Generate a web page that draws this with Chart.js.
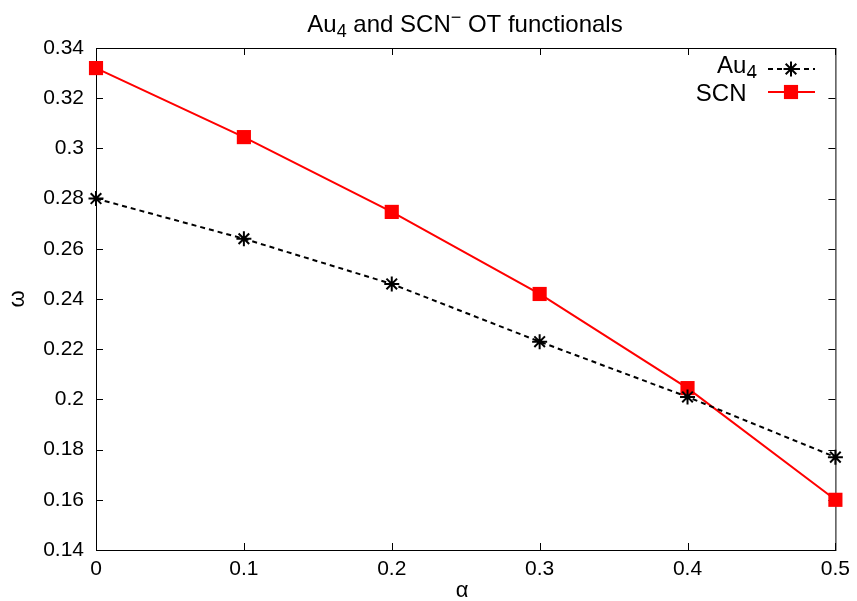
<!DOCTYPE html>
<html>
<head>
<meta charset="utf-8">
<script src="https://cdn.jsdelivr.net/npm/chart.js@4"></script>
<style>
  html, body { margin: 0; padding: 0; background: #fff; }
  #wrap { width: 857px; height: 601px; }
</style>
</head>
<body>
<div id="wrap"><canvas id="chart" width="857" height="601"></canvas></div>
<script>
// Data
const alphaValues = [0, 0.1, 0.2, 0.3, 0.4, 0.5];
const au4Omega = [0.280, 0.264, 0.246, 0.223, 0.201, 0.177];
const scnOmega = [0.332, 0.3045, 0.2747, 0.242, 0.2045, 0.160];
const xTicks = [0, 0.1, 0.2, 0.3, 0.4, 0.5];
const yTicks = [0.14, 0.16, 0.18, 0.2, 0.22, 0.24, 0.26, 0.28, 0.3, 0.32, 0.34];

const FONT = '"Liberation Sans", Arial, sans-serif';
const TICK_SIZE = 21;
const TEXT_SIZE = 24;

// draw a run of text pieces; each piece may have its own size and vertical offset
function drawRichText(ctx, pieces, x, y, align) {
    const fontOf = p => (p.size || TEXT_SIZE) + 'px ' + FONT;
    const widths = pieces.map(p => { ctx.font = fontOf(p); return ctx.measureText(p.t).width; });
    const total = widths.reduce((s, w) => s + w, 0);
    let cx = align === 'center' ? x - total / 2 : align === 'right' ? x - total : x;
    ctx.textAlign = 'left';
    ctx.textBaseline = 'alphabetic';
    pieces.forEach((p, i) => {
        ctx.font = fontOf(p);
        ctx.fillText(p.t, cx, y + (p.dy || 0));
        cx += widths[i];
    });
}

// border + inward ticks (under the data, like gnuplot)
const gnuplotFrame = {
    id: 'gnuplotFrame',
    beforeDatasetsDraw(chart) {
        const ctx = chart.ctx;
        const area = chart.chartArea;
        const xs = chart.scales.x, ys = chart.scales.y;
        ctx.save();
        ctx.strokeStyle = '#000';
        ctx.lineWidth = 1;
        ctx.strokeRect(area.left + 0.5, area.top + 0.5, area.right - area.left, area.bottom - area.top);
        const tl = 7;
        ctx.beginPath();
        xTicks.forEach(v => {
            const px = Math.round(xs.getPixelForValue(v)) + 0.5;
            ctx.moveTo(px, area.bottom); ctx.lineTo(px, area.bottom - tl);
            ctx.moveTo(px, area.top); ctx.lineTo(px, area.top + tl);
        });
        yTicks.forEach(v => {
            const py = Math.round(ys.getPixelForValue(v)) + 0.5;
            ctx.moveTo(area.left, py); ctx.lineTo(area.left + tl, py);
            ctx.moveTo(area.right, py); ctx.lineTo(area.right - tl, py);
        });
        ctx.stroke();
        ctx.restore();
    },
    afterDraw(chart) {
        const ctx = chart.ctx;
        ctx.save();
        ctx.fillStyle = '#000';

        // title
        drawRichText(ctx, [
            { t: 'Au' }, { t: '4', size: 18, dy: 5 }, { t: ' and SCN' },
            { t: '\u2212', size: 18, dy: -9 }, { t: ' OT functionals' }
        ], 465, 32, 'center');

        // axis labels
        ctx.font = '22px ' + FONT;
        ctx.textAlign = 'center';
        ctx.textBaseline = 'middle';
        ctx.fillText('\u03b1', 462, 591);
        ctx.save();
        ctx.translate(18, 299);
        ctx.rotate(-Math.PI / 2);
        ctx.fillText('\u03c9', 0, 0);
        ctx.restore();

        // legend (key top right, gnuplot style)
        const entries = [
            { ds: chart.data.datasets[0], y: 69, baseline: 73,
              text: [{ t: 'Au' }, { t: '4', size: 19, dy: 5 }] },
            { ds: chart.data.datasets[1], y: 92, baseline: 101,
              text: [{ t: 'SCN' }, { t: '\u2212', size: 18, dy: -20 }] }
        ];
        entries.forEach(e => {
            ctx.fillStyle = '#000';
            drawRichText(ctx, e.text, 757, e.baseline, 'right');
            ctx.strokeStyle = e.ds.borderColor;
            ctx.lineWidth = e.ds.borderWidth;
            ctx.setLineDash(e.ds.borderDash || []);
            ctx.beginPath();
            ctx.moveTo(768, e.y); ctx.lineTo(815, e.y);
            ctx.stroke();
            ctx.setLineDash([]);
            ctx.fillStyle = e.ds.pointBackgroundColor;
            ctx.strokeStyle = e.ds.pointBorderColor;
            ctx.lineWidth = e.ds.pointBorderWidth;
            Chart.helpers.drawPoint(ctx, {
                pointStyle: e.ds.pointStyle, rotation: 0,
                radius: e.ds.pointRadius, borderWidth: e.ds.pointBorderWidth
            }, 791, e.y);
        });
        ctx.restore();
    }
};

new Chart(document.getElementById('chart'), {
    type: 'line',
    data: {
        datasets: [
            {
                label: 'Au4',
                data: alphaValues.map((a, i) => ({ x: a, y: au4Omega[i] })),
                borderColor: '#000',
                borderWidth: 2,
                borderDash: [5, 4],
                pointStyle: 'star',
                pointRadius: 7.5,
                pointBorderWidth: 2,
                pointBorderColor: '#000',
                pointBackgroundColor: '#000',
                tension: 0,
                clip: false
            },
            {
                label: 'SCN-',
                data: alphaValues.map((a, i) => ({ x: a, y: scnOmega[i] })),
                borderColor: '#ff0000',
                borderWidth: 2,
                pointStyle: 'rect',
                pointRadius: 10,
                pointBorderWidth: 0,
                pointBorderColor: '#ff0000',
                pointBackgroundColor: '#ff0000',
                tension: 0,
                clip: false
            }
        ]
    },
    options: {
        responsive: false,
        animation: false,
        layout: { padding: { top: 48, right: 19, left: 0, bottom: 0 } },
        plugins: { legend: { display: false }, title: { display: false }, tooltip: { enabled: false } },
        scales: {
            x: {
                type: 'linear', min: 0, max: 0.5,
                afterFit: s => { s.height = 51; },
                afterBuildTicks: s => { s.ticks = xTicks.map(v => ({ value: v })); },
                grid: { display: false, drawTicks: false },
                border: { display: false },
                ticks: {
                    padding: 7, color: '#000',
                    font: { family: FONT, size: TICK_SIZE },
                    callback: v => String(Math.round(v * 10) / 10)
                }
            },
            y: {
                min: 0.14, max: 0.34,
                afterFit: s => { s.width = 96; },
                afterBuildTicks: s => { s.ticks = yTicks.map(v => ({ value: v })); },
                grid: { display: false, drawTicks: false },
                border: { display: false },
                ticks: {
                    padding: 12, color: '#000',
                    font: { family: FONT, size: TICK_SIZE },
                    callback: v => String(Math.round(v * 100) / 100)
                }
            }
        }
    },
    plugins: [gnuplotFrame]
});
</script>
</body>
</html>
